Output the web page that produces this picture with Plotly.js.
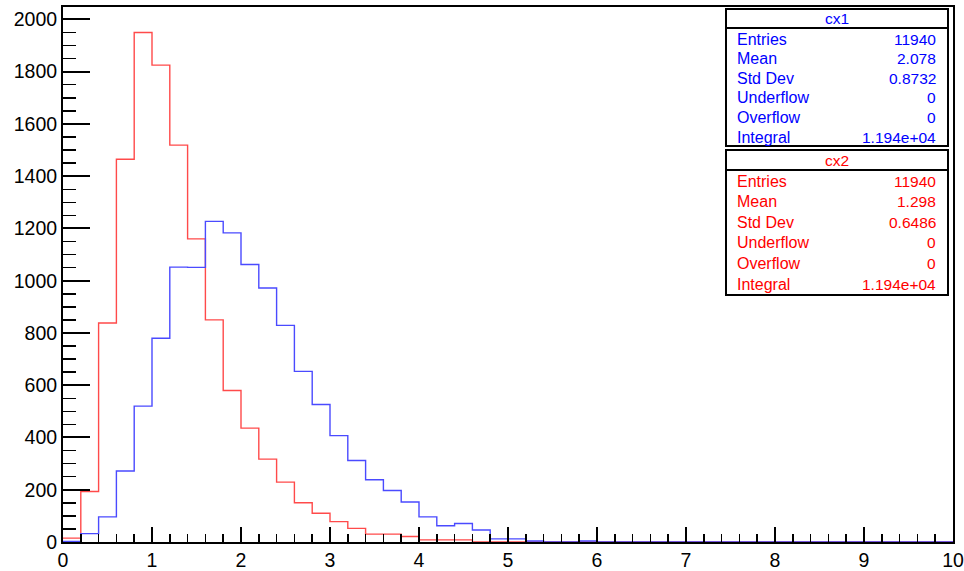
<!DOCTYPE html>
<html>
<head>
<meta charset="utf-8">
<script src="https://cdn.plot.ly/plotly-3.0.1.min.js"></script>
<style>
html,body{margin:0;padding:0;background:#fff;}
#chart{width:964px;height:571px;}
</style>
</head>
<body>
<div id="chart"></div>
<script>
// Bin edges (bin width 0.2 from 0 to 10)
var binEdges = [0,0.2,0.4,0.6,0.8,1,1.2,1.4,1.6,1.8,2,2.2,2.4,2.6,2.8,3,3.2,3.4,3.6,3.8,
  4,4.2,4.4,4.6,4.8,5,5.2,5.4,5.6,5.8,6,6.2,6.4,6.6,6.8,7,7.2,7.4,7.6,7.8,
  8,8.2,8.4,8.6,8.8,9,9.2,9.4,9.6,9.8,10];

// cx1 (blue) bin contents
var cx1Counts = [2,32,96,272,520,780,1052,1051,1227,1183,1062,972,829,653,526,407,312,238,197,153,
  96,62,71,46,12,12,4,0,0,4,0,0,0,0,0,0,0,0,0,0,
  0,0,0,0,0,0,0,0,0,0];

// cx2 (red) bin contents
var cx2Counts = [15,193,838,1465,1950,1825,1519,1160,850,580,436,317,229,150,110,78,52,30,30,21,
  8,8,8,0,0,0,0,0,0,0,0,0,0,0,0,0,0,0,0,0,
  0,0,0,0,0,0,0,0,0,0];

var xTickVals = [0,1,2,3,4,5,6,7,8,9,10];
var yTickVals = [0,200,400,600,800,1000,1200,1400,1600,1800,2000];

var statLabels = ["Entries","Mean","Std Dev","Underflow","Overflow","Integral"];
var cx1Stats = ["11940","2.078","0.8732","0","0","1.194e+04"];
var cx2Stats = ["11940","1.298","0.6486","0","0","1.194e+04"];

function stepY(counts){ return counts.concat([counts[counts.length-1]]); }

var traces = [
  {x: binEdges, y: stepY(cx2Counts), type:'scatter', mode:'lines',
   line:{shape:'hv', color:'#ff4a4a', width:1.4}, hoverinfo:'skip', name:'cx2'},
  {x: binEdges, y: stepY(cx1Counts), type:'scatter', mode:'lines',
   line:{shape:'hv', color:'#4a4aff', width:1.4}, hoverinfo:'skip', name:'cx1'}
];

var W=964, H=571, mL=63, mR=11, mT=7, mB=29;
var pw=W-mL-mR, ph=H-mT-mB;
function px(x){ return (x-mL)/pw; }
function py(y){ return (H-mB-y)/ph; }

var shapes=[], annotations=[];
var FONT='Liberation Sans, Arial, Helvetica';
function statBox(top, sep, bottom, rowStart, rowStep, title, vals, color){
  var x0=726, x1=948;
  shapes.push({type:'rect', xref:'paper', yref:'paper', x0:px(x0), x1:px(x1), y0:py(bottom), y1:py(top),
    line:{color:'black', width:2}, fillcolor:'white', layer:'above'});
  shapes.push({type:'line', xref:'paper', yref:'paper', x0:px(x0), x1:px(x1), y0:py(sep), y1:py(sep),
    line:{color:'black', width:2}, layer:'above'});
  annotations.push({xref:'paper', yref:'paper', x:px((x0+x1)/2), y:py((top+sep)/2), text:title,
    showarrow:false, xanchor:'center', yanchor:'middle', borderpad:0, font:{family:FONT, size:15.5, color:color}});
  for (var i=0;i<statLabels.length;i++){
    var yy = rowStart + i*rowStep;
    annotations.push({xref:'paper', yref:'paper', x:px(736), y:py(yy), text:statLabels[i],
      showarrow:false, xanchor:'left', yanchor:'middle', borderpad:0, font:{family:FONT, size:16, color:color}});
    annotations.push({xref:'paper', yref:'paper', x:px(937), y:py(yy), text:vals[i],
      showarrow:false, xanchor:'right', yanchor:'middle', borderpad:0, font:{family:FONT, size:15.5, color:color}});
  }
}
statBox(9, 28, 146, 39, 19.6, 'cx1', cx1Stats, '#0000ff');
statBox(150, 170, 295, 181, 20.6, 'cx2', cx2Stats, '#ff0000');

var layout = {
  width: W, height: H,
  margin:{l:mL, r:mR, t:mT, b:mB, pad:0},
  paper_bgcolor:'white', plot_bgcolor:'white',
  showlegend:false,
  font:{family:FONT, size:19.5, color:'black'},
  xaxis:{range:[0,10], tickvals:xTickVals, ticktext:xTickVals.map(String),
    ticks:'inside', ticklen:15, tickwidth:2, tickcolor:'black',
    minor:{dtick:0.2, ticks:'inside', ticklen:8, tickwidth:1.5, tickcolor:'black', showgrid:false},
    showline:true, linewidth:2, linecolor:'black', mirror:true,
    showgrid:false, zeroline:false, tickfont:{size:19.5}},
  yaxis:{range:[0,2047.5], tickvals:yTickVals, ticktext:yTickVals.map(String),
    ticks:'inside', ticklen:27, tickwidth:2, tickcolor:'black',
    minor:{dtick:50, ticks:'inside', ticklen:13, tickwidth:1.5, tickcolor:'black', showgrid:false},
    showline:true, linewidth:2, linecolor:'black', mirror:true,
    showgrid:false, zeroline:false, tickfont:{size:19.5}},
  shapes: shapes,
  annotations: annotations
};

Plotly.newPlot('chart', traces, layout, {staticPlot:true, displayModeBar:false});
</script>
</body>
</html>
